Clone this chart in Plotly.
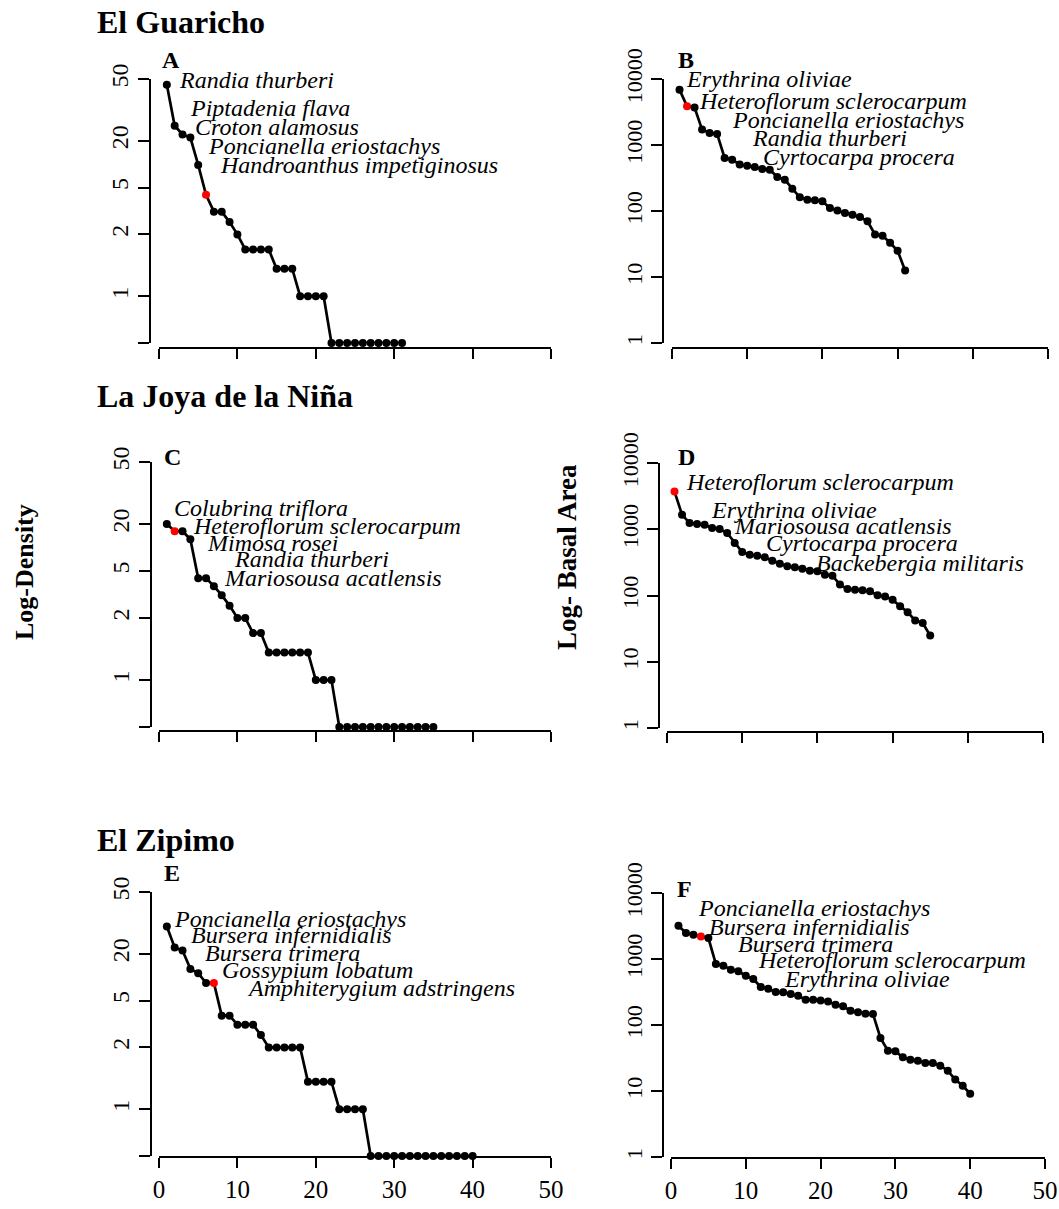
import math
import plotly.graph_objects as go

# ---------------- data ----------------
# Panel A - El Guaricho, density (individuals) by rank
dens_guaricho = [46, 25, 22, 21, 14, 9, 7, 7, 6, 5, 4, 4, 4, 4, 3, 3, 3, 2, 2, 2, 2,
                 1, 1, 1, 1, 1, 1, 1, 1, 1, 1]
red_dens_guaricho = 6
# Panel B - El Guaricho, basal area by rank
ba_guaricho = [6900, 3850, 3700, 1710, 1520, 1470, 635, 600, 505, 486, 464, 433, 423,
               327, 298, 218, 161, 148, 145, 140, 111, 102, 93, 88, 81, 70, 44, 42,
               33, 25, 12.5]
red_ba_guaricho = 2
# Panel C - La Joya de la Niña, density
dens_joya = [20, 18, 18, 16, 9, 9, 8, 7, 6, 5, 5, 4, 4, 3, 3, 3, 3, 3, 3, 2, 2, 2,
             1, 1, 1, 1, 1, 1, 1, 1, 1, 1, 1, 1, 1]
red_dens_joya = 2
# Panel D - La Joya de la Niña, basal area
ba_joya = [3700, 1660, 1240, 1200, 1170, 1045, 1009, 877, 620, 453, 413, 399, 377, 336,
           302, 276, 266, 254, 237, 232, 206, 199, 146, 125, 122, 120, 116, 101, 97,
           86, 69, 56, 42, 38.5, 24.8]
red_ba_joya = 1
# Panel E - El Zipimo, density
dens_zipimo = [30, 22, 21, 16, 15, 13, 13, 8, 8, 7, 7, 7, 6, 5, 5, 5, 5, 5, 3, 3, 3, 3,
               2, 2, 2, 2, 1, 1, 1, 1, 1, 1, 1, 1, 1, 1, 1, 1, 1, 1]
red_dens_zipimo = 7
# Panel F - El Zipimo, basal area
ba_zipimo = [3200, 2480, 2340, 2200, 2080, 840, 793, 689, 650, 559, 498, 377, 355, 316,
             313, 295, 278, 242, 242, 236, 228, 203, 192, 165, 156, 148, 147, 63.5,
             40.8, 39.9, 32.4, 29.8, 28.8, 26.6, 26.6, 24.2, 20.3, 14.9, 12.0, 9.1]
red_ba_zipimo = 4

species_A = ["Randia thurberi", "Piptadenia flava", "Croton alamosus",
             "Poncianella eriostachys", "Handroanthus impetiginosus"]
species_B = ["Erythrina oliviae", "Heteroflorum sclerocarpum", "Poncianella eriostachys",
             "Randia thurberi", "Cyrtocarpa procera"]
species_C = ["Colubrina triflora", "Heteroflorum sclerocarpum", "Mimosa rosei",
             "Randia thurberi", "Mariosousa acatlensis"]
species_D = ["Heteroflorum sclerocarpum", "Erythrina oliviae", "Mariosousa acatlensis",
             "Cyrtocarpa procera", "Backebergia militaris"]
species_E = ["Poncianella eriostachys", "Bursera infernidialis", "Bursera trimera",
             "Gossypium lobatum", "Amphiterygium adstringens"]
species_F = ["Poncianella eriostachys", "Bursera infernidialis", "Bursera trimera",
             "Heteroflorum sclerocarpum", "Erythrina oliviae"]

site_names = ["El Guaricho", "La Joya de la Niña", "El Zipimo"]
panel_letters = ["A", "B", "C", "D", "E", "F"]

x_ticks = [0, 10, 20, 30, 40, 50]
dens_tickvals = [1, 2, 5, 10, 20, 50]
dens_ticktext = ["", "1", "2", "5", "20", "50"]
ba_tickvals = [1, 10, 100, 1000, 10000]
ba_ticktext = ["1", "10", "100", "1000", "10000"]

# ---------------- layout helpers ----------------
W, H = 1059, 1209
FONT = "Liberation Serif, Times New Roman, serif"


def PX(x):
    return x / W


def PY(y):
    return 1 - y / H


panels = [
    dict(vals=dens_guaricho, red=red_dens_guaricho, kind="dens", x0=159, x50=551, ybot=343, ytop=79,
         yline=150, xline=348, letter=(171, 60), labels=species_A,
         lpos=[(178, 80), (189, 108), (194, 127), (207, 146), (219, 165)], xlab=False),
    dict(vals=ba_guaricho, red=red_ba_guaricho, kind="ba", x0=672, x50=1048, ybot=343, ytop=79,
         yline=663, xline=348, letter=(686, 60), labels=species_B,
         lpos=[(685, 79), (698, 101), (731, 120), (751, 138), (762, 157)], xlab=False),
    dict(vals=dens_joya, red=red_dens_joya, kind="dens", x0=159, x50=551, ybot=727, ytop=462,
         yline=151, xline=731, letter=(172, 457), labels=species_C,
         lpos=[(173, 508), (192, 526), (206, 543), (233, 559), (223, 578)], xlab=False),
    dict(vals=ba_joya, red=red_ba_joya, kind="ba", x0=667, x50=1043, ybot=728, ytop=463,
         yline=659, xline=732, letter=(686, 457), labels=species_D,
         lpos=[(685, 482), (710, 510), (733, 526), (765, 543), (815, 563)], xlab=False),
    dict(vals=dens_zipimo, red=red_dens_zipimo, kind="dens", x0=159, x50=551, ybot=1156, ytop=892,
         yline=151, xline=1157, letter=(172, 873), labels=species_E,
         lpos=[(173, 919), (190, 935), (204, 953), (221, 970), (246, 988)], xlab=True),
    dict(vals=ba_zipimo, red=red_ba_zipimo, kind="ba", x0=671, x50=1045, ybot=1157, ytop=893,
         yline=663, xline=1158, letter=(684, 889), labels=species_F,
         lpos=[(697, 908), (708, 927), (737, 944), (757, 960), (783, 979)], xlab=True),
]

fig = go.Figure()
annotations = []
layout_axes = {}

for i, p in enumerate(panels, start=1):
    sfx = "" if i == 1 else str(i)
    vals = p["vals"]
    ranks = list(range(1, len(vals) + 1))
    colors = ["red" if r == p["red"] else "black" for r in ranks]
    fig.add_trace(go.Scatter(
        x=ranks, y=vals, mode="lines+markers",
        line=dict(color="black", width=2.7),
        marker=dict(color=colors, size=8, line=dict(width=0)),
        xaxis="x" + sfx, yaxis="y" + sfx, cliponaxis=False, showlegend=False,
        hoverinfo="x+y",
    ))
    layout_axes["xaxis" + sfx] = dict(
        domain=[PX(p["x0"]), PX(p["x50"])], range=[0, 50], anchor="free",
        position=PY(p["xline"]), showline=True, linewidth=2, linecolor="black",
        ticks="outside", ticklen=10, tickwidth=2, tickcolor="black",
        tickvals=x_ticks, showticklabels=p["xlab"], automargin=False,
        ticklabeloverflow="allow",
        tickfont=dict(family=FONT, size=25, color="black"),
        showgrid=False, zeroline=False,
    )
    if p["kind"] == "dens":
        yr = [0, math.log10(50)]
        tv, tt = dens_tickvals, dens_ticktext
        tsize = 24
    else:
        yr = [0, 4]
        tv, tt = ba_tickvals, ba_ticktext
        tsize = 22
    layout_axes["yaxis" + sfx] = dict(
        domain=[PY(p["ybot"]), PY(p["ytop"])], type="log", range=yr, anchor="free",
        position=PX(p["yline"]), showline=True, linewidth=2, linecolor="black",
        ticks="outside", ticklen=11, tickwidth=2, tickcolor="black",
        tickvals=tv, ticktext=tt, tickangle=-90, automargin=False,
        ticklabeloverflow="allow",
        tickfont=dict(family=FONT, size=tsize, color="black"),
        showgrid=False, zeroline=False,
    )
    # panel letter
    annotations.append(dict(
        x=PX(p["letter"][0]), y=PY(p["letter"][1]), xref="paper", yref="paper",
        text="<b>" + panel_letters[i - 1] + "</b>", showarrow=False,
        xanchor="center", yanchor="middle",
        font=dict(family=FONT, size=24, color="black")))
    # species labels
    for name, (lx, ly) in zip(p["labels"], p["lpos"]):
        annotations.append(dict(
            x=PX(lx), y=PY(ly), xref="paper", yref="paper",
            text="<i>" + name + "</i>", showarrow=False,
            xanchor="left", yanchor="middle", borderpad=0,
            font=dict(family=FONT, size=24, color="black")))

# site titles
for name, ty in zip(site_names, [22, 396, 840]):
    annotations.append(dict(
        x=PX(95), y=PY(ty), xref="paper", yref="paper", text="<b>" + name + "</b>",
        showarrow=False, xanchor="left", yanchor="middle",
        font=dict(family=FONT, size=32, color="black")))

# axis titles
annotations.append(dict(
    x=PX(24), y=PY(572), xref="paper", yref="paper", text="<b>Log-Density</b>",
    showarrow=False, textangle=-90, xanchor="center", yanchor="middle",
    font=dict(family=FONT, size=26, color="black")))
annotations.append(dict(
    x=PX(567), y=PY(557), xref="paper", yref="paper", text="<b>Log- Basal Area</b>",
    showarrow=False, textangle=-90, xanchor="center", yanchor="middle",
    font=dict(family=FONT, size=27, color="black")))

fig.update_layout(
    width=W, height=H, margin=dict(l=0, r=0, t=0, b=0, autoexpand=False),
    paper_bgcolor="white", plot_bgcolor="white",
    annotations=annotations, showlegend=False,
    font=dict(family=FONT, color="black"),
    **layout_axes,
)

fig.write_html("out.html")
